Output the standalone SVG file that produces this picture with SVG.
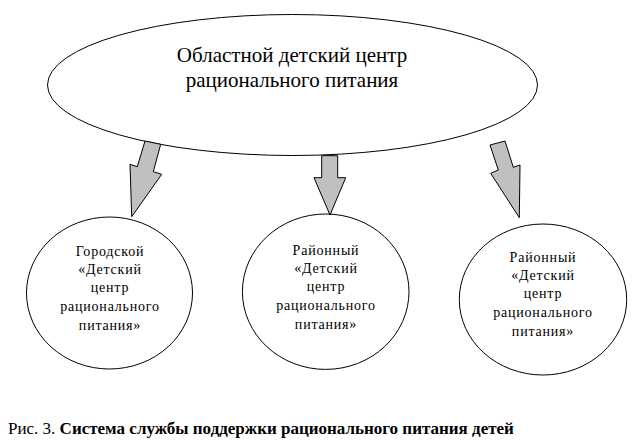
<svg xmlns="http://www.w3.org/2000/svg" width="632" height="447" viewBox="0 0 632 447">
<rect width="632" height="447" fill="#fff"/>
<g id="main">
<ellipse cx="292.5" cy="85" rx="245" ry="70.5" fill="#fff" stroke="#000"/>
<text x="292" y="62" font-family="Liberation Serif" font-size="21" text-anchor="middle">Областной детский центр</text>
<text x="292" y="87" font-family="Liberation Serif" font-size="21" text-anchor="middle">рационального питания</text>
</g>
<g id="city" font-family="Liberation Serif" font-size="14" text-anchor="middle" letter-spacing="0.8">
<ellipse cx="109.5" cy="293" rx="83" ry="76" fill="#fff" stroke="#000"/>
<text x="110" y="256">Городской</text>
<text x="110" y="274">«Детский</text>
<text x="110" y="292">центр</text>
<text x="110" y="311">рационального</text>
<text x="110" y="330">питания»</text>
</g>
<g id="district1" font-family="Liberation Serif" font-size="14" text-anchor="middle" letter-spacing="0.8">
<ellipse cx="325.7" cy="291.7" rx="83.3" ry="77.7" fill="#fff" stroke="#000"/>
<text x="326" y="255">Районный</text>
<text x="326" y="273">«Детский</text>
<text x="326" y="291">центр</text>
<text x="326" y="310">рационального</text>
<text x="326" y="329">питания»</text>
</g>
<g id="district2" font-family="Liberation Serif" font-size="14" text-anchor="middle" letter-spacing="0.8">
<ellipse cx="543" cy="299.5" rx="83.7" ry="75.5" fill="#fff" stroke="#000"/>
<text x="543" y="262">Районный</text>
<text x="543" y="280">«Детский</text>
<text x="543" y="298">центр</text>
<text x="543" y="317">рационального</text>
<text x="543" y="336">питания»</text>
</g>
<g id="connectors" fill="#c0c0c0" stroke="#000">
<polygon points="145,141 160.7,144.3 153.3,171.7 161.7,174.3 131.7,216.7 130,164.3 137.3,166.7"/>
<polygon points="321.7,155.7 337.7,155.7 337.7,177.7 345.7,177.7 330,215 314,177.7 321.7,177.7"/>
<polygon points="490,145 505,141 513.3,167.3 520,165 519.3,217.7 490.7,173.3 498.3,170"/>
</g>
<text x="8" y="434" font-family="Liberation Serif" font-size="17">Рис. 3. <tspan font-weight="bold">Система службы поддержки рационального питания детей</tspan></text>
</svg>
